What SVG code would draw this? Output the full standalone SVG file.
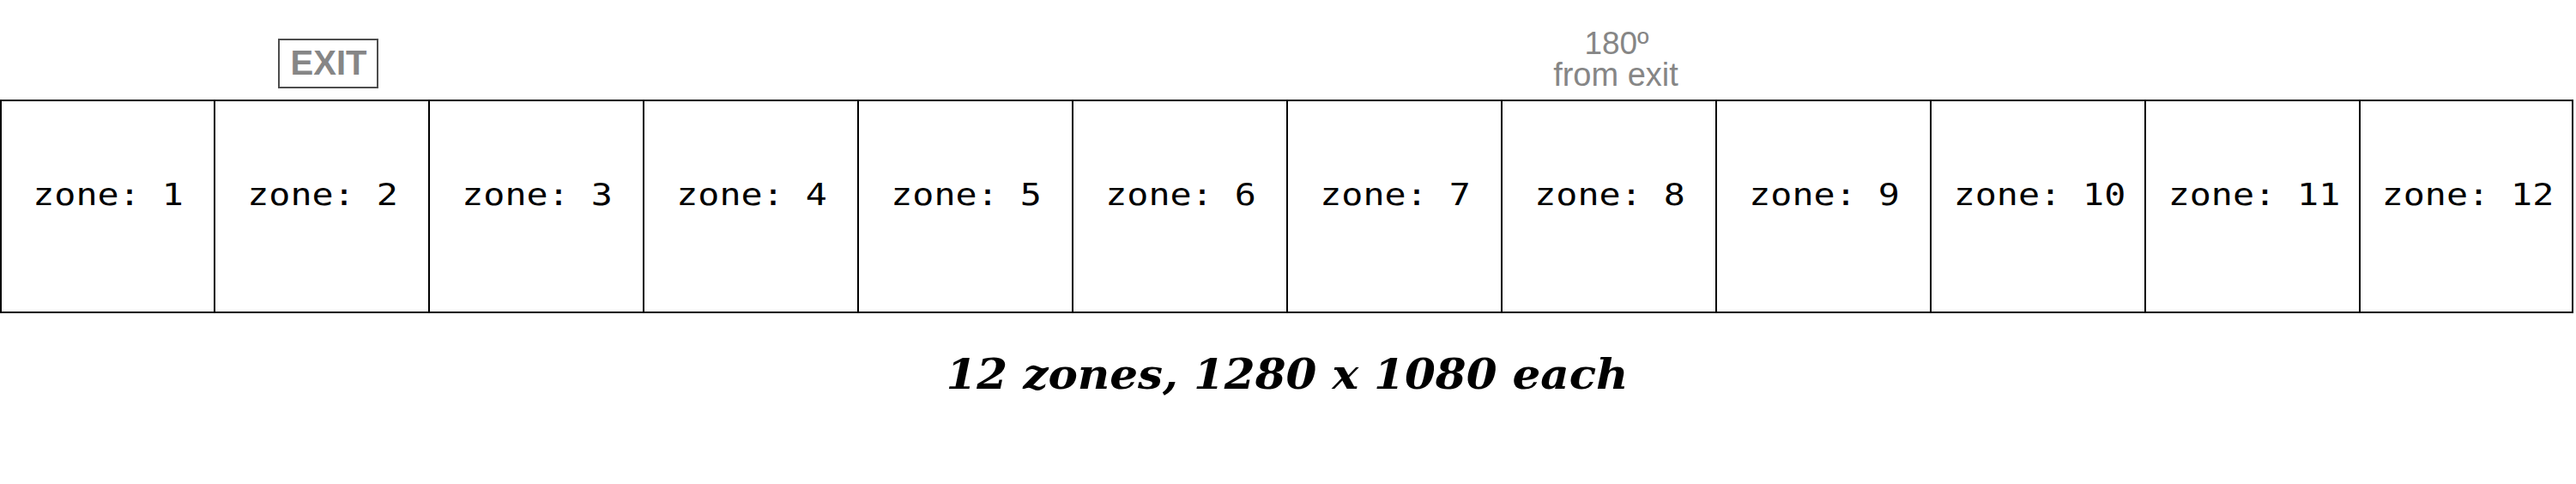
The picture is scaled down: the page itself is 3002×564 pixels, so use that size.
<svg xmlns="http://www.w3.org/2000/svg" width="3002" height="564" viewBox="0 0 3002 564">
<style>
.zone{fill:#fff;stroke:#000;stroke-width:2}
.zl{font-family:"DejaVu Sans Mono","Liberation Mono",monospace;font-size:35px;fill:#000;text-anchor:middle}
.gray{font-family:"Liberation Sans",Arial,sans-serif;fill:#868686;text-anchor:middle}
.title{font-family:"DejaVu Serif","Liberation Serif",serif;font-weight:bold;font-style:italic;font-size:48px;fill:#000;text-anchor:middle}
</style>
<rect x="0" y="0" width="3002" height="564" fill="#fff"/>
<g id="exit">
<rect x="325" y="46" width="115" height="56" fill="none" stroke="#4d4d4d" stroke-width="2"/>
<text class="gray" x="383" y="87" font-size="40" font-weight="bold">EXIT</text>
</g>
<g id="note180">
<text class="gray" x="1884" y="63" font-size="37">180º</text>
<text class="gray" x="1883" y="100" font-size="38">from exit</text>
</g>
<g id="zone1"><rect class="zone" x="1" y="117" width="249" height="247"/><text class="zl" transform="translate(126,239) scale(1.19,1)">zone: 1</text></g>
<g id="zone2"><rect class="zone" x="250" y="117" width="250" height="247"/><text class="zl" transform="translate(376,239) scale(1.19,1)">zone: 2</text></g>
<g id="zone3"><rect class="zone" x="500" y="117" width="250" height="247"/><text class="zl" transform="translate(626,239) scale(1.19,1)">zone: 3</text></g>
<g id="zone4"><rect class="zone" x="750" y="117" width="250" height="247"/><text class="zl" transform="translate(876,239) scale(1.19,1)">zone: 4</text></g>
<g id="zone5"><rect class="zone" x="1000" y="117" width="250" height="247"/><text class="zl" transform="translate(1126,239) scale(1.19,1)">zone: 5</text></g>
<g id="zone6"><rect class="zone" x="1250" y="117" width="250" height="247"/><text class="zl" transform="translate(1376,239) scale(1.19,1)">zone: 6</text></g>
<g id="zone7"><rect class="zone" x="1500" y="117" width="250" height="247"/><text class="zl" transform="translate(1626,239) scale(1.19,1)">zone: 7</text></g>
<g id="zone8"><rect class="zone" x="1750" y="117" width="250" height="247"/><text class="zl" transform="translate(1876,239) scale(1.19,1)">zone: 8</text></g>
<g id="zone9"><rect class="zone" x="2000" y="117" width="250" height="247"/><text class="zl" transform="translate(2126,239) scale(1.19,1)">zone: 9</text></g>
<g id="zone10"><rect class="zone" x="2250" y="117" width="250" height="247"/><text class="zl" transform="translate(2377,239) scale(1.19,1)">zone: 10</text></g>
<g id="zone11"><rect class="zone" x="2500" y="117" width="250" height="247"/><text class="zl" transform="translate(2627,239) scale(1.19,1)">zone: 11</text></g>
<g id="zone12"><rect class="zone" x="2750" y="117" width="248" height="247"/><text class="zl" transform="translate(2876,239) scale(1.19,1)">zone: 12</text></g>
<g id="connectors"></g>
<text class="title" x="1500" y="453" textLength="795" lengthAdjust="spacingAndGlyphs">12 zones, 1280 x 1080 each</text>
</svg>
